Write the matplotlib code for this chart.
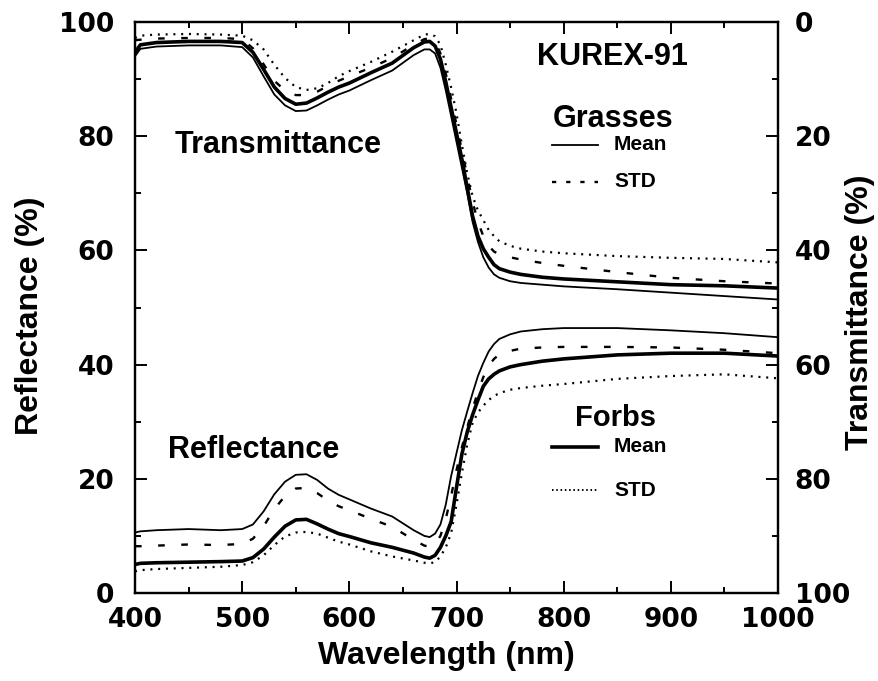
import matplotlib

matplotlib.use("Agg")
import matplotlib.pyplot as plt
from matplotlib import font_manager
from matplotlib.ticker import MultipleLocator

# wavelength grid (nm) shared by all spectra
wavelength = [400, 405, 420, 450, 480, 500, 510, 520, 530, 540, 550, 560, 570, 580,
              590, 600, 620, 640, 660, 670, 675, 680, 685, 690, 695, 700, 705, 710,
              715, 720, 725, 730, 735, 740, 750, 760, 780, 800, 850, 900, 950, 1000]

# reflectance (%)
grass_mean_refl = [10.6, 10.8, 11.0, 11.2, 11.0, 11.2, 12.0, 14.3, 17.3, 19.5, 20.7, 20.8,
                   19.8, 18.3, 17.2, 16.4, 14.8, 13.4, 11.0, 10.0, 9.8, 10.4, 12.0, 15.5,
                   20.5, 24.5, 28.5, 31.8, 35.0, 38.0, 40.3, 42.3, 43.6, 44.5, 45.3, 45.8,
                   46.2, 46.4, 46.4, 46.0, 45.5, 44.8]
grass_std_refl = [8.2, 8.2, 8.3, 8.5, 8.4, 8.6, 9.5, 11.7, 14.7, 17.0, 18.3, 18.4,
                  17.5, 16.2, 15.2, 14.5, 13.0, 11.6, 9.3, 8.3, 8.1, 8.6, 10.0, 13.0,
                  17.0, 21.5, 25.5, 29.0, 32.3, 35.2, 37.8, 39.8, 41.0, 41.8, 42.4, 42.8,
                  43.0, 43.1, 43.1, 43.0, 42.6, 42.0]
forb_mean_refl = [5.0, 5.2, 5.3, 5.4, 5.5, 5.6, 6.2, 7.7, 9.8, 11.7, 12.8, 12.9,
                  12.1, 11.2, 10.4, 9.9, 8.8, 8.0, 7.0, 6.3, 6.1, 6.6, 8.0, 10.0,
                  12.5, 18.5, 24.3, 28.2, 31.2, 33.8, 36.2, 37.5, 38.3, 38.9, 39.6, 40.0,
                  40.6, 41.0, 41.7, 42.0, 42.0, 41.5]
forb_std_refl = [3.8, 4.0, 4.2, 4.4, 4.6, 4.9, 5.4, 6.6, 8.4, 9.9, 10.6, 10.7,
                 10.4, 9.7, 9.0, 8.5, 7.3, 6.4, 5.7, 5.3, 5.2, 5.4, 6.4, 8.0,
                 10.5, 15.5, 21.0, 26.0, 29.8, 31.6, 32.8, 33.8, 34.5, 35.0, 35.6, 35.9,
                 36.3, 36.6, 37.5, 38.0, 38.3, 37.6]

# transmittance (%)
grass_mean_trans = [6.0, 4.7, 4.3, 4.1, 4.1, 4.4, 6.2, 9.5, 12.7, 14.6, 15.6, 15.5,
                    14.6, 13.6, 12.7, 12.0, 10.2, 8.5, 5.8, 4.8, 4.8, 5.5, 8.0, 12.0,
                    16.5, 21.0, 25.5, 30.0, 35.0, 38.5, 41.2, 43.0, 44.2, 44.8, 45.4, 45.7,
                    46.0, 46.3, 46.8, 47.4, 48.0, 48.6]
grass_std_trans = [3.2, 3.1, 2.9, 2.8, 2.8, 3.0, 4.6, 7.4, 10.3, 12.0, 12.8, 12.8,
                   12.2, 11.2, 10.3, 9.5, 8.0, 6.3, 4.0, 3.0, 2.9, 3.4, 5.5, 9.0,
                   13.5, 18.0, 22.5, 27.0, 31.5, 35.0, 37.5, 39.2, 40.2, 40.7, 41.2, 41.6,
                   42.2, 42.7, 43.8, 44.8, 45.4, 45.8]
forb_mean_trans = [5.3, 4.0, 3.6, 3.4, 3.4, 3.6, 5.3, 8.3, 11.4, 13.4, 14.4, 14.2,
                   13.3, 12.3, 11.4, 10.7, 8.9, 7.2, 4.5, 3.5, 3.4, 4.2, 6.5, 10.5,
                   15.0, 19.5, 24.0, 29.0, 34.0, 37.5, 39.7, 41.2, 42.5, 43.2, 43.8, 44.2,
                   44.7, 45.0, 45.5, 46.0, 46.2, 46.6]
forb_std_trans = [2.8, 2.4, 2.2, 2.1, 2.2, 2.4, 3.2, 4.8, 7.5, 9.8, 11.4, 11.9,
                  11.6, 10.7, 9.5, 8.6, 7.0, 5.2, 3.2, 2.2, 2.1, 2.5, 4.0, 7.5,
                  11.5, 16.0, 21.5, 26.5, 30.5, 33.0, 34.7, 36.4, 37.5, 38.4, 39.2, 39.7,
                  40.2, 40.5, 41.0, 41.3, 41.5, 42.1]

x_ticks = [400, 500, 600, 700, 800, 900, 1000]
pct_ticks = [0, 20, 40, 60, 80, 100]

INK = "black"
THIN_LW = 1.3
THICK_LW = 2.6
DASHED = (0, (2.8, 7.0))
DOTTED = (0, (0.9, 2.6))

installed = {f.name for f in font_manager.fontManager.ttflist}
TEXT_FONT = ["Liberation Sans", "DejaVu Sans"]
if "Liberation Sans Narrow" in installed:
    NARROW_FONT = ["Liberation Sans Narrow", "Liberation Sans"]
    NARROW_SIZE = 18
else:
    NARROW_FONT = TEXT_FONT
    NARROW_SIZE = 15
NUM_FONT = ["DejaVu Sans"]


def style_axis(ax):
    for side in ["left", "right", "top", "bottom"]:
        ax.spines[side].set_linewidth(1.6)
        ax.spines[side].set_color(INK)


def legend_entry(ax, y, label, **line_kw):
    ax.plot([0.649, 0.72], [y, y], transform=ax.transAxes, color=INK,
            clip_on=False, **line_kw)
    ax.text(0.745, y, label, transform=ax.transAxes, ha="left", va="center",
            fontsize=NARROW_SIZE, fontweight="bold", family=NARROW_FONT)


def main():
    fig = plt.figure(figsize=(8.79, 6.81), dpi=100)
    ax = fig.add_axes([0.1536, 0.1292, 0.7315, 0.8385])
    ax2 = ax.twinx()

    # reflectance set on the left axis
    ax.plot(wavelength, grass_mean_refl, color=INK, lw=THIN_LW)
    ax.plot(wavelength, grass_std_refl, color=INK, lw=1.7, linestyle=DASHED)
    ax.plot(wavelength, forb_mean_refl, color=INK, lw=THICK_LW)
    ax.plot(wavelength, forb_std_refl, color=INK, lw=1.6, linestyle=DOTTED)

    # transmittance set on the inverted right axis
    ax2.plot(wavelength, grass_mean_trans, color=INK, lw=THIN_LW)
    ax2.plot(wavelength, grass_std_trans, color=INK, lw=1.7, linestyle=DASHED)
    ax2.plot(wavelength, forb_mean_trans, color=INK, lw=THICK_LW)
    ax2.plot(wavelength, forb_std_trans, color=INK, lw=1.6, linestyle=DOTTED)

    ax.set_xlim(400, 1000)
    ax.set_ylim(0, 100)
    ax2.set_ylim(100, 0)

    ax.set_xticks(x_ticks)
    ax.set_yticks(pct_ticks)
    ax2.set_yticks(pct_ticks)
    ax.xaxis.set_minor_locator(MultipleLocator(50))
    ax.yaxis.set_minor_locator(MultipleLocator(10))
    ax2.yaxis.set_minor_locator(MultipleLocator(10))

    ax.tick_params(which="both", direction="in", top=True, bottom=True,
                   left=True, right=False, width=1.4, colors=INK)
    ax.tick_params(which="major", length=8.5)
    ax.tick_params(which="minor", length=4.3)
    ax.tick_params(axis="x", which="major", pad=10)
    ax.tick_params(axis="y", which="major", pad=15)
    ax2.tick_params(which="both", direction="in", right=True, width=1.4, colors=INK)
    ax2.tick_params(which="major", length=8.5, pad=12)
    ax2.tick_params(which="minor", length=4.3)

    for lab in ax.get_xticklabels() + ax.get_yticklabels() + ax2.get_yticklabels():
        lab.set_fontsize(19)
        lab.set_fontweight("bold")
        lab.set_family(NUM_FONT)

    ax.set_xlabel("Wavelength (nm)", fontsize=23, fontweight="bold",
                  family=TEXT_FONT, va="center")
    ax.xaxis.set_label_coords(0.484, -0.110)
    ax.set_ylabel("Reflectance (%)", fontsize=23, fontweight="bold",
                  family=TEXT_FONT, va="center")
    ax.yaxis.set_label_coords(-0.163, 0.485)
    ax2.set_ylabel("Transmittance (%)", fontsize=23, fontweight="bold",
                   family=TEXT_FONT, va="center", rotation=90)
    ax2.yaxis.set_label_coords(1.1275, 0.492)

    style_axis(ax)
    style_axis(ax2)

    text_kw = dict(transform=ax.transAxes, ha="center", va="center",
                   fontweight="bold", family=TEXT_FONT)
    ax.text(0.222, 0.785, "Transmittance", fontsize=22, **text_kw)
    ax.text(0.184, 0.250, "Reflectance", fontsize=22, **text_kw)
    ax.text(0.742, 0.938, "KUREX-91", fontsize=22, **text_kw)

    ax.text(0.743, 0.830, "Grasses", fontsize=22, **text_kw)
    legend_entry(ax, 0.785, "Mean", lw=THIN_LW)
    legend_entry(ax, 0.720, "STD", lw=1.7, linestyle=(0, (1.8, 4.2)))

    ax.text(0.748, 0.306, "Forbs", fontsize=21, **text_kw)
    legend_entry(ax, 0.256, "Mean", lw=THICK_LW)
    legend_entry(ax, 0.180, "STD", lw=1.4, linestyle=(0, (0.8, 1.4)))

    fig.savefig("out.png", dpi=100)
    plt.close(fig)


if __name__ == "__main__":
    main()
